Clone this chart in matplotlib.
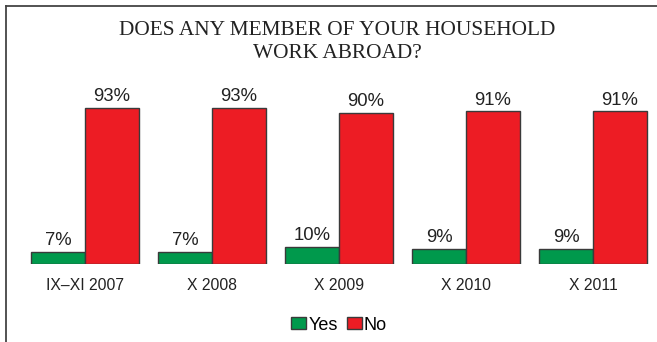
import numpy as np
import matplotlib.pyplot as plt
from matplotlib.patches import Patch
from matplotlib.lines import Line2D

periods = ['IX–XI 2007', 'X 2008', 'X 2009', 'X 2010', 'X 2011']
yes = [7, 7, 10, 9, 9]
no = [93, 93, 90, 91, 91]

green = '#00994c'
red = '#ed1c24'
edge = '#3a3a3a'

plt.rcParams['font.family'] = ['Liberation Sans', 'DejaVu Sans']

fig = plt.figure(figsize=(6.57, 3.42), dpi=100)
ax = fig.add_axes([21.5 / 657, 78 / 342, 635 / 657, 167.7 / 342])

x = np.arange(len(periods))
w = 0.425
b1 = ax.bar(x - w / 2, yes, w, color=green, edgecolor=edge, linewidth=1.0)
b2 = ax.bar(x + w / 2, no, w, color=red, edgecolor=edge, linewidth=1.0)

for bars, vals in [(b1, yes), (b2, no)]:
    for r, v in zip(bars, vals):
        ax.annotate(f'{v}%', (r.get_x() + r.get_width() / 2, v),
                    xytext=(0, 2), textcoords='offset points',
                    ha='center', va='bottom', fontsize=13.3, color='#222222')

ax.set_xlim(-0.5, len(periods) - 0.5)
ax.set_ylim(0, 100)
ax.set_xticks(x)
ax.set_xticklabels(periods, fontsize=11.3, color='#222222')
ax.tick_params(axis='x', length=0, pad=10)
ax.set_yticks([])
for s in ax.spines.values():
    s.set_visible(False)

fig.text(337 / 657, 1 - 42 / 342, 'DOES ANY MEMBER OF YOUR HOUSEHOLD\nWORK ABROAD?',
         ha='center', va='center', fontsize=15.4, family='Liberation Serif',
         color='#222222', linespacing=1.35)

handles = [Patch(facecolor=green, edgecolor=edge, label='Yes'),
           Patch(facecolor=red, edgecolor=edge, label='No')]
fig.legend(handles=handles, loc='center', bbox_to_anchor=(339 / 657, 1 - 325 / 342),
           ncol=2, frameon=False, fontsize=13, handlelength=0.85, handleheight=0.6,
           handletextpad=0.1, columnspacing=0.5, borderpad=0)

# frame lines on the left and top
fig.add_artist(Line2D([6 / 657, 6 / 657], [0, 1 - 6 / 342], color='#444444', linewidth=1.3))
fig.add_artist(Line2D([6 / 657, 1], [1 - 6 / 342, 1 - 6 / 342], color='#444444', linewidth=1.3))

fig.savefig('out.png', dpi=100)
